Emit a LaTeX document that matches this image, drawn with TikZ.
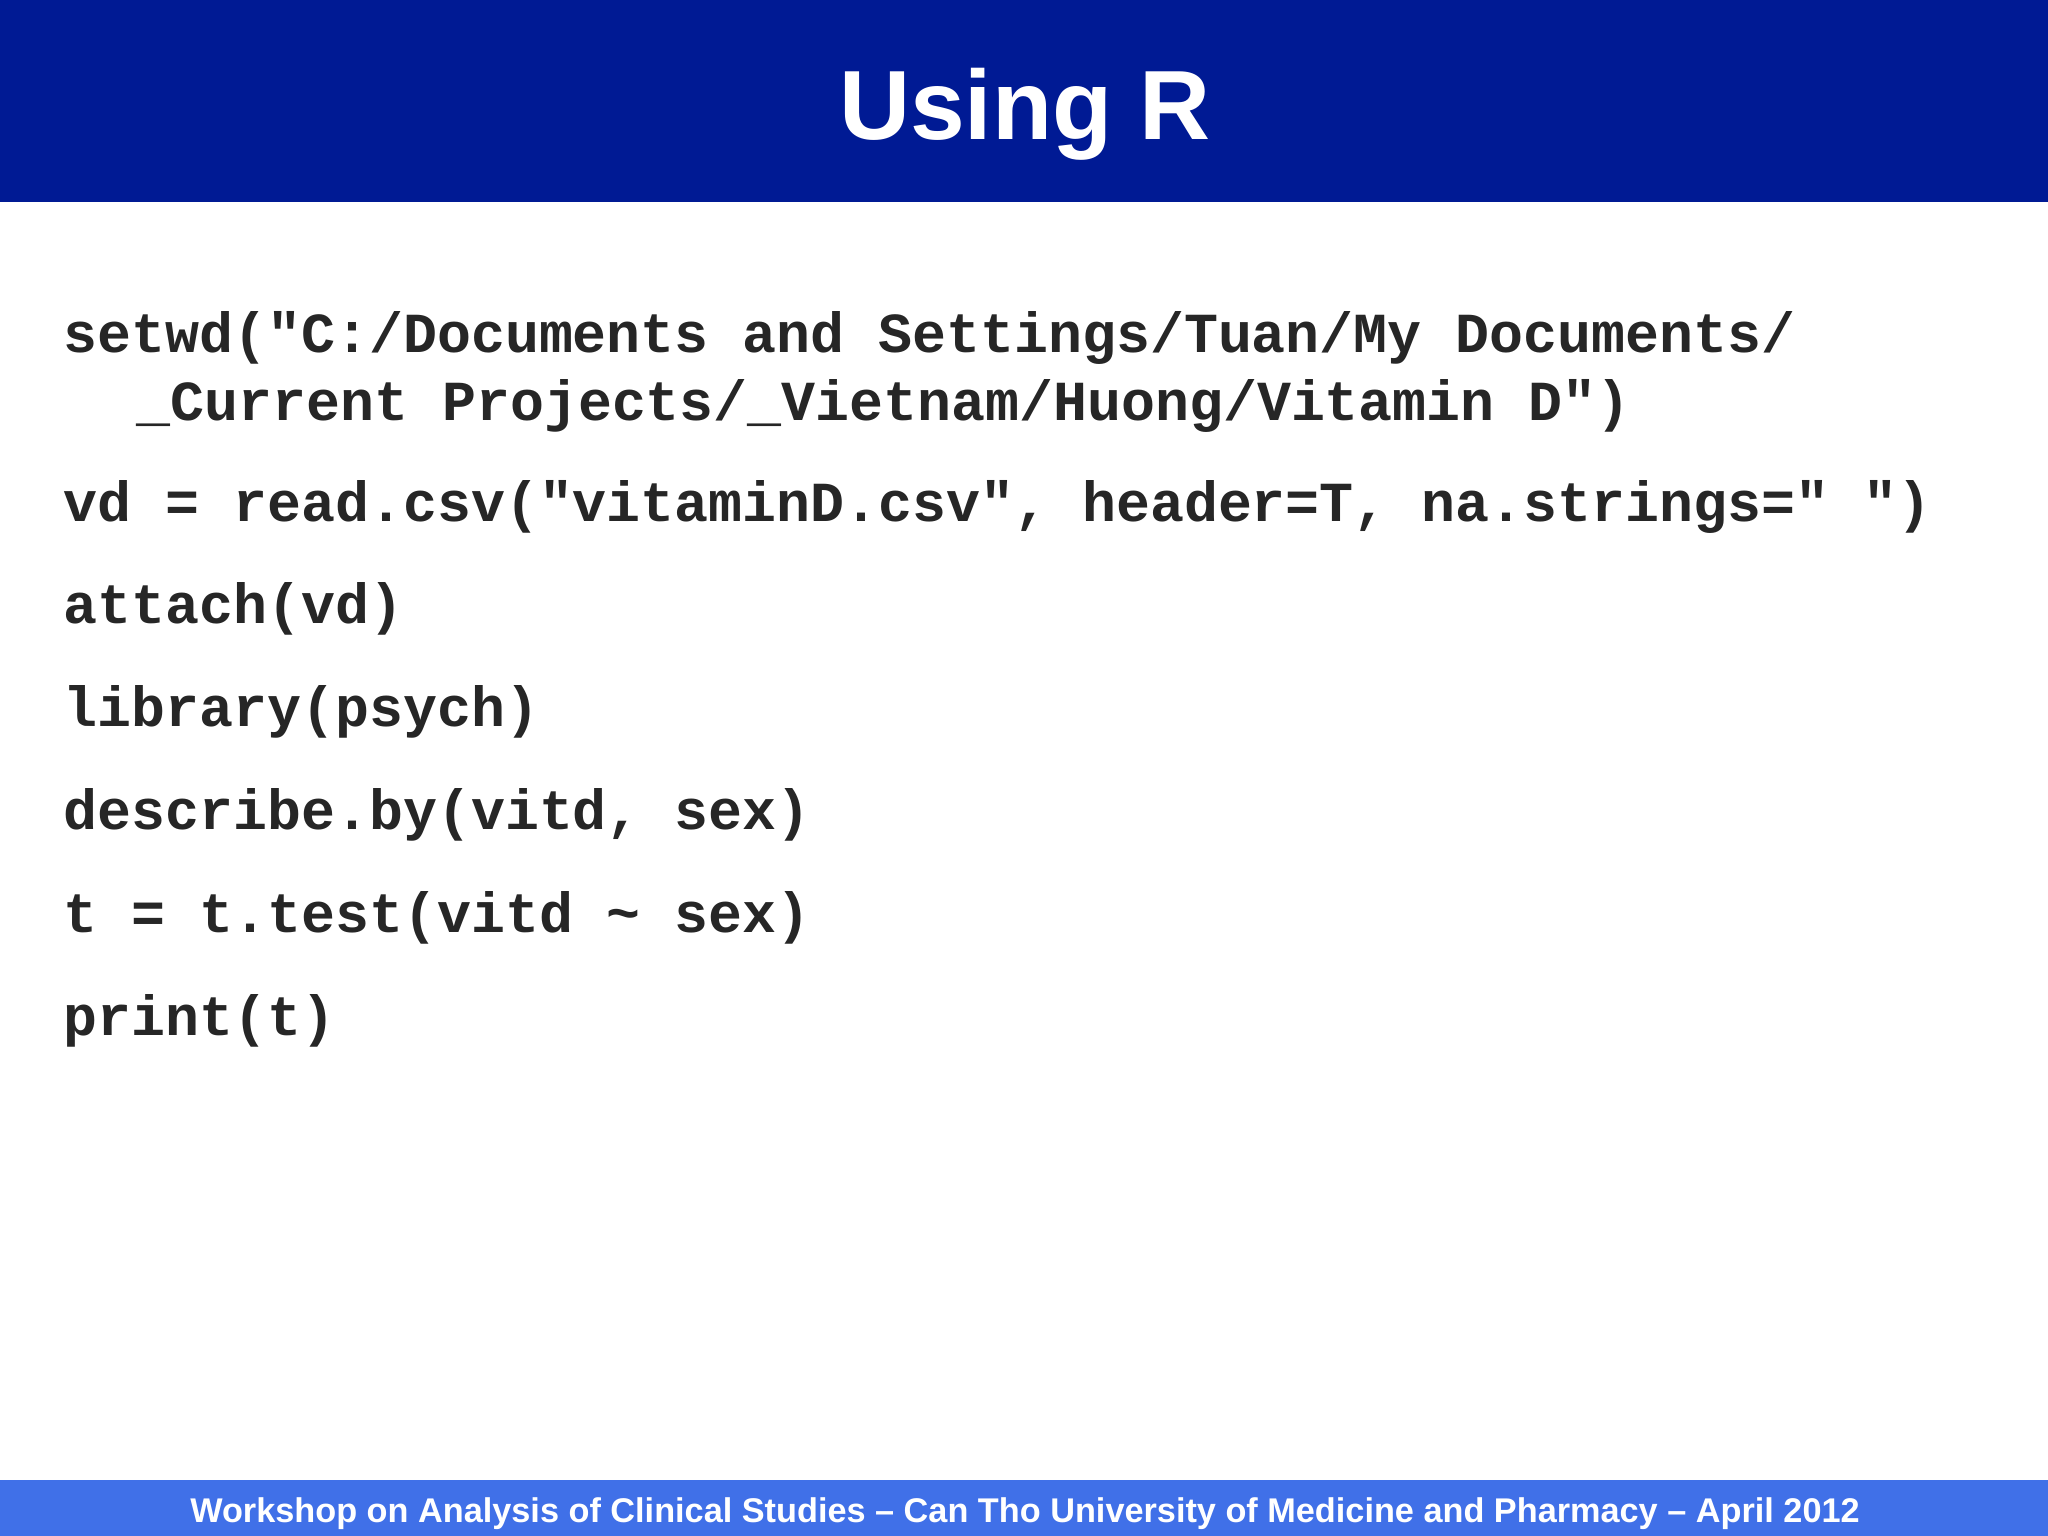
\documentclass[tikz,border=0pt]{standalone}
\usepackage{fontspec}
\setmainfont{Liberation Sans}
\newfontfamily\codefont{Liberation Mono}
\definecolor{hdr}{HTML}{001A94}
\definecolor{ftr}{HTML}{4070E8}
\tikzset{code/.style={anchor=base west,inner sep=0pt,font=\codefont\bfseries\fontsize{16.1}{18}\selectfont,text=black!85}}
\begin{document}
\begin{tikzpicture}[x=1cm,y=1cm]
\useasboundingbox (0,0) rectangle (20.48,15.36);
\fill[white] (0,0) rectangle (20.48,15.36);
\fill[hdr] (0,13.34) rectangle (20.48,15.36);
\fill[ftr] (0,0) rectangle (20.48,0.56);
\node[text=white,font=\bfseries\fontsize{28}{33}\selectfont] (title) at (10.25,14.22) {Using R};
\node[text=white,font=\bfseries\fontsize{9.75}{12}\selectfont] (foot) at (10.25,0.22) {Workshop on Analysis of Clinical Studies -- Can Tho University of Medicine and Pharmacy -- April 2012};
\node[code] (l1) at (0.63,11.83) {setwd("C:/Documents and Settings/Tuan/My Documents/};
\node[code] (l2) at (1.36,11.15) {\_Current Projects/\_Vietnam/Huong/Vitamin D")};
\node[code] (l3) at (0.63,10.14) {vd = read.csv("vitaminD.csv", header=T, na.strings=" ")};
\node[code] (l4) at (0.63,9.12) {attach(vd)};
\node[code] (l5) at (0.63,8.09) {library(psych)};
\node[code] (l6) at (0.63,7.06) {describe.by(vitd, sex)};
\node[code] (l7) at (0.63,6.03) {t = t.test(vitd \textasciitilde{} sex)};
\node[code] (l8) at (0.63,5.00) {print(t)};
\end{tikzpicture}
\end{document}
